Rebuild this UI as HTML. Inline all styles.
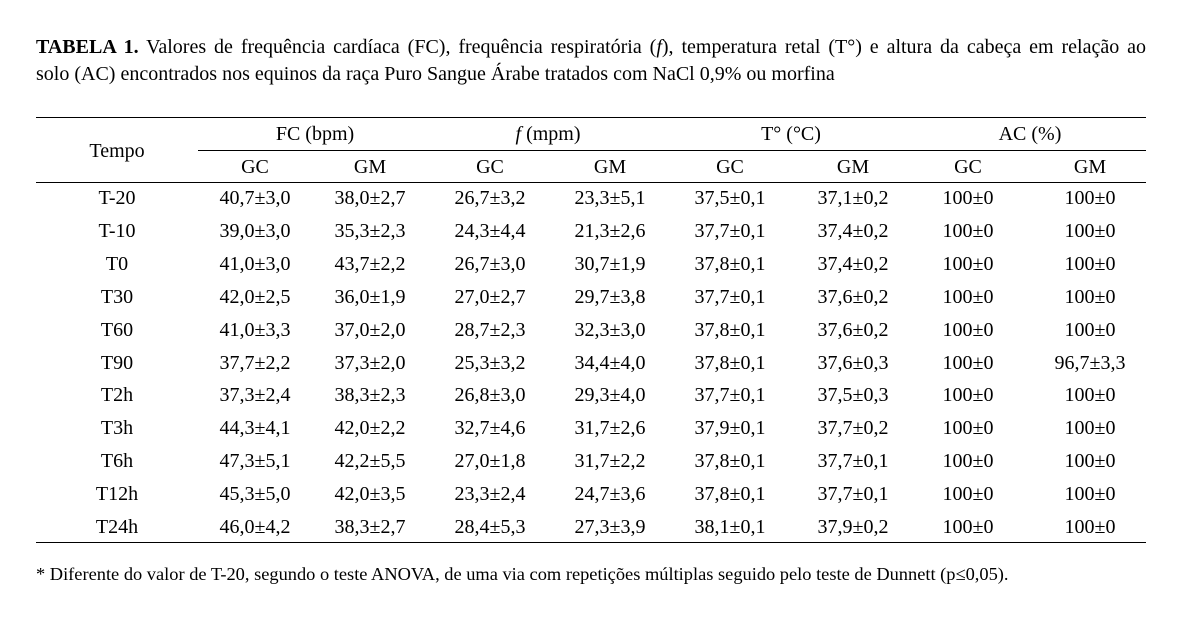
<!DOCTYPE html>
<html><head><meta charset="utf-8"><style>
body{margin:0;width:1181px;height:620px;background:#fff;position:relative;font-family:"Liberation Serif",serif;color:#000;overflow:hidden}
.t{position:absolute;font-size:20px;line-height:22px;white-space:nowrap;transform:translate(-50%,-50%)}
.ln{position:absolute;height:1px;background:#000}
.title{position:absolute;left:36px;width:1110px;top:34px;font-size:20px;line-height:27px;white-space:nowrap}
.title span{display:block;text-align:justify;text-align-last:justify;white-space:normal}
.foot{position:absolute;left:36px;top:564px;font-size:18.4px;line-height:20px;white-space:nowrap}
</style></head><body>
<div class="title"><span><b>TABELA 1.</b> Valores de frequência cardíaca (FC), frequência respiratória (<i>f</i>), temperatura retal (T°) e altura da cabeça em relação ao</span>solo (AC) encontrados nos equinos da raça Puro Sangue Árabe tratados com NaCl 0,9% ou morfina</div>
<div class="ln" style="left:36px;width:1110px;top:117px"></div>
<div class="ln" style="left:198px;width:948px;top:150px"></div>
<div class="ln" style="left:36px;width:1110px;top:182px"></div>
<div class="ln" style="left:36px;width:1110px;top:542px"></div>
<div class="t" style="left:117px;top:151px">Tempo</div>
<div class="t" style="left:315px;top:134px">FC (bpm)</div>
<div class="t" style="left:548px;top:134px"><i>f</i> (mpm)</div>
<div class="t" style="left:791px;top:134px">T° (°C)</div>
<div class="t" style="left:1030px;top:134px">AC (%)</div>
<div id="g"></div>
<div class="foot">* Diferente do valor de T-20, segundo o teste ANOVA, de uma via com repetições múltiplas seguido pelo teste de Dunnett (p≤0,05).</div>
<script>
var xs=[117,255,370,490,610,730,853,968,1090];
var h=["","GC","GM","GC","GM","GC","GM","GC","GM"];
var rows=[
["T-20","40,7±3,0","38,0±2,7","26,7±3,2","23,3±5,1","37,5±0,1","37,1±0,2","100±0","100±0"],
["T-10","39,0±3,0","35,3±2,3","24,3±4,4","21,3±2,6","37,7±0,1","37,4±0,2","100±0","100±0"],
["T0","41,0±3,0","43,7±2,2","26,7±3,0","30,7±1,9","37,8±0,1","37,4±0,2","100±0","100±0"],
["T30","42,0±2,5","36,0±1,9","27,0±2,7","29,7±3,8","37,7±0,1","37,6±0,2","100±0","100±0"],
["T60","41,0±3,3","37,0±2,0","28,7±2,3","32,3±3,0","37,8±0,1","37,6±0,2","100±0","100±0"],
["T90","37,7±2,2","37,3±2,0","25,3±3,2","34,4±4,0","37,8±0,1","37,6±0,3","100±0","96,7±3,3"],
["T2h","37,3±2,4","38,3±2,3","26,8±3,0","29,3±4,0","37,7±0,1","37,5±0,3","100±0","100±0"],
["T3h","44,3±4,1","42,0±2,2","32,7±4,6","31,7±2,6","37,9±0,1","37,7±0,2","100±0","100±0"],
["T6h","47,3±5,1","42,2±5,5","27,0±1,8","31,7±2,2","37,8±0,1","37,7±0,1","100±0","100±0"],
["T12h","45,3±5,0","42,0±3,5","23,3±2,4","24,7±3,6","37,8±0,1","37,7±0,1","100±0","100±0"],
["T24h","46,0±4,2","38,3±2,7","28,4±5,3","27,3±3,9","38,1±0,1","37,9±0,2","100±0","100±0"]];
var s="";
for(var i=1;i<9;i++)s+='<div class="t" style="left:'+xs[i]+'px;top:167px">'+h[i]+'</div>';
rows.forEach(function(r,j){var y=198+j*32.9;r.forEach(function(c,i){s+='<div class="t" style="left:'+xs[i]+'px;top:'+y+'px">'+c+'</div>';});});
document.getElementById("g").innerHTML=s;
</script>
</body></html>
